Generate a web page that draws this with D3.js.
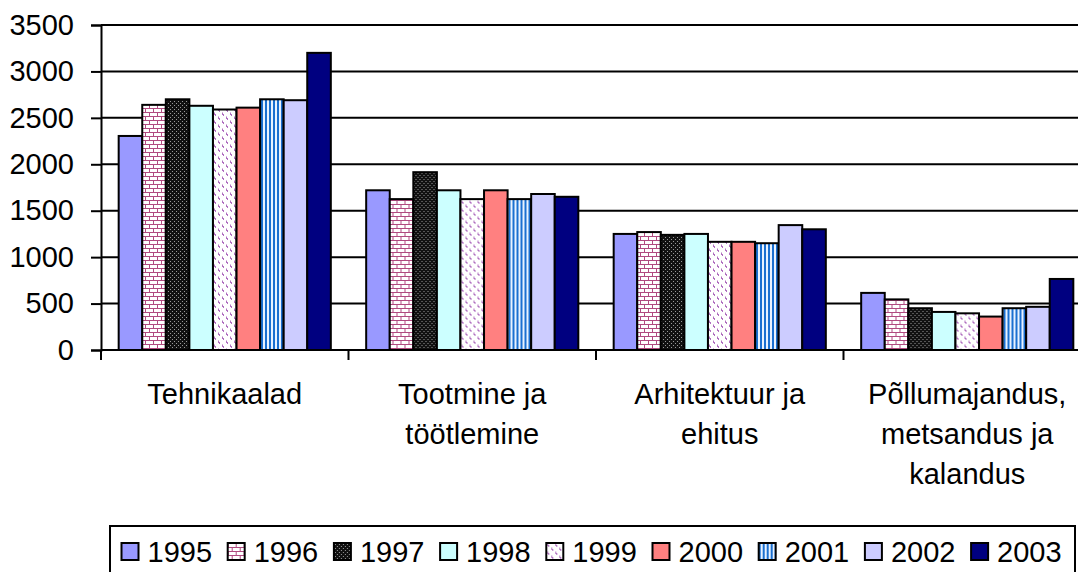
<!DOCTYPE html>
<html>
<head>
<meta charset="utf-8">
<script src="https://cdn.jsdelivr.net/npm/d3@7.9.0/dist/d3.min.js"></script>
<style>
  html, body { margin: 0; padding: 0; background: #fff; }
  svg { display: block; font-family: 'Liberation Sans', Arial, sans-serif; }
</style>
</head>
<body>
<svg id="chart" width="1078" height="572"></svg>
<script>
// data
const years = ['1995', '1996', '1997', '1998', '1999', '2000', '2001', '2002', '2003'];
const categories = ['Tehnikaalad', 'Tootmine ja töötlemine', 'Arhitektuur ja ehitus', 'Põllumajandus, metsandus ja kalandus'];
const categoryLines = [
  ['Tehnikaalad'],
  ['Tootmine ja', 'töötlemine'],
  ['Arhitektuur ja', 'ehitus'],
  ['Põllumajandus,', 'metsandus ja', 'kalandus'],
];
const tehnikaalad = [2305, 2640, 2700, 2630, 2590, 2610, 2700, 2690, 3200];
const tootmine = [1720, 1625, 1915, 1720, 1625, 1720, 1625, 1680, 1650];
const arhitektuur = [1250, 1270, 1240, 1250, 1165, 1165, 1150, 1345, 1300];
const pollumajandus = [615, 545, 450, 410, 395, 360, 450, 465, 765];
const yTicks = [0, 500, 1000, 1500, 2000, 2500, 3000, 3500];

const values = [tehnikaalad, tootmine, arhitektuur, pollumajandus];

const svg = d3.select('#chart');
const plotLeft = 101, plotTop = 25, plotBottom = 350;
const catWidth = 247.5;
const plotRight = plotLeft + catWidth * categories.length;

// fill patterns for the hatched years
const defs = svg.append('defs');

const brick = defs.append('pattern').attr('id', 'p1996')
  .attr('patternUnits', 'userSpaceOnUse').attr('width', 8).attr('height', 8);
brick.append('rect').attr('width', 8).attr('height', 8).attr('fill', '#fff');
brick.append('path')
  .attr('d', 'M0,0.5H8M0,4.5H8M0.5,0V4.5M4.5,4.5V8')
  .attr('stroke', '#b04a80').attr('stroke-width', 1);

const dots = defs.append('pattern').attr('id', 'p1997')
  .attr('patternUnits', 'userSpaceOnUse').attr('width', 4).attr('height', 4);
dots.append('rect').attr('width', 4).attr('height', 4).attr('fill', '#111');
dots.append('rect').attr('x', 1).attr('y', 1).attr('width', 1).attr('height', 1).attr('fill', '#999');
dots.append('rect').attr('x', 3).attr('y', 3).attr('width', 1).attr('height', 1).attr('fill', '#999');

const dash = defs.append('pattern').attr('id', 'p1999')
  .attr('patternUnits', 'userSpaceOnUse').attr('width', 8).attr('height', 8);
dash.append('rect').attr('width', 8).attr('height', 8).attr('fill', '#fff');
dash.append('path')
  .attr('d', 'M1.5,0.5V3M2.5,2V4M5.5,4.5V7M6.5,6V8')
  .attr('stroke', '#b070c0').attr('stroke-width', 1);

const stripes = defs.append('pattern').attr('id', 'p2001')
  .attr('patternUnits', 'userSpaceOnUse').attr('width', 4).attr('height', 4);
stripes.append('rect').attr('width', 4).attr('height', 4).attr('fill', '#e8f2ff');
stripes.append('rect').attr('width', 2).attr('height', 4).attr('fill', '#1a6fd0');

const fills = ['#9999ff', 'url(#p1996)', 'url(#p1997)', '#ccffff', 'url(#p1999)',
  '#ff8080', 'url(#p2001)', '#ccccff', '#000080'];

const y = d3.scaleLinear().domain([0, 3500]).range([plotBottom, plotTop]);
const x0 = d3.scaleBand().domain(categories).range([plotLeft, plotRight]);
const x1 = d3.scaleBand().domain(years)
  .range([0, x0.bandwidth()]).paddingOuter(0.75);

// gridlines
svg.append('g')
  .selectAll('line')
  .data(yTicks.filter(d => d > 0))
  .join('line')
  .attr('x1', plotLeft).attr('x2', plotRight)
  .attr('y1', d => y(d)).attr('y2', d => y(d))
  .attr('stroke', '#000').attr('stroke-width', 2);

// bars
const groups = svg.append('g')
  .selectAll('g')
  .data(categories)
  .join('g')
  .attr('transform', d => `translate(${x0(d)},0)`);

groups.selectAll('rect')
  .data((d, i) => years.map((yr, j) => ({ yr, j, v: values[i][j] })))
  .join('rect')
  .attr('x', d => x1(d.yr))
  .attr('y', d => y(d.v))
  .attr('width', x1.bandwidth())
  .attr('height', d => y(0) - y(d.v))
  .attr('fill', d => fills[d.j])
  .attr('stroke', '#000')
  .attr('stroke-width', 2);

// y axis
const yAxis = svg.append('g')
  .attr('transform', `translate(${plotLeft},0)`)
  .call(d3.axisLeft(y).tickValues(yTicks).tickFormat(d => String(d))
    .tickSize(10).tickPadding(17));
yAxis.select('.domain').attr('stroke-width', 2);
yAxis.selectAll('.tick line').attr('stroke-width', 2);
yAxis.selectAll('.tick text')
  .attr('font-size', 29).attr('fill', '#000')
  .attr('font-family', "'Liberation Sans', Arial, sans-serif");

// x axis line and ticks between categories
const xAxis = svg.append('g');
xAxis.append('line')
  .attr('x1', plotLeft).attr('x2', plotRight)
  .attr('y1', plotBottom).attr('y2', plotBottom)
  .attr('stroke', '#000').attr('stroke-width', 2);
xAxis.selectAll('line.sep')
  .data(categories.concat(['end']))
  .join('line')
  .attr('class', 'sep')
  .attr('x1', (d, i) => plotLeft + i * x0.bandwidth())
  .attr('x2', (d, i) => plotLeft + i * x0.bandwidth())
  .attr('y1', plotBottom).attr('y2', plotBottom + 10)
  .attr('stroke', '#000').attr('stroke-width', 2);

// category labels
const labels = svg.append('g')
  .selectAll('text')
  .data(categories)
  .join('text')
  .attr('x', d => x0(d) + x0.bandwidth() / 2)
  .attr('y', 404)
  .attr('text-anchor', 'middle')
  .attr('font-size', 29)
  .attr('fill', '#000');
labels.selectAll('tspan')
  .data((d, i) => categoryLines[i])
  .join('tspan')
  .attr('x', function () { return this.parentNode.getAttribute('x'); })
  .attr('dy', (d, i) => i === 0 ? 0 : 40)
  .text(d => d);

// legend
const legendLeft = 110, legendTop = 526, legendRight = 1075;
const itemStep = 106.2, firstMarker = 121.5;
svg.append('rect')
  .attr('x', legendLeft).attr('y', legendTop)
  .attr('width', legendRight - legendLeft).attr('height', 80)
  .attr('fill', 'none').attr('stroke', '#000').attr('stroke-width', 2);

const items = svg.append('g')
  .selectAll('g')
  .data(years)
  .join('g')
  .attr('transform', (d, i) => `translate(${firstMarker + i * itemStep},543)`);
items.append('rect')
  .attr('width', 17).attr('height', 17)
  .attr('fill', (d, i) => fills[i])
  .attr('stroke', '#000').attr('stroke-width', 2);
items.append('text')
  .attr('x', 26).attr('y', 18.5)
  .attr('font-size', 29)
  .attr('fill', '#000')
  .text(d => d);
</script>
</body>
</html>
